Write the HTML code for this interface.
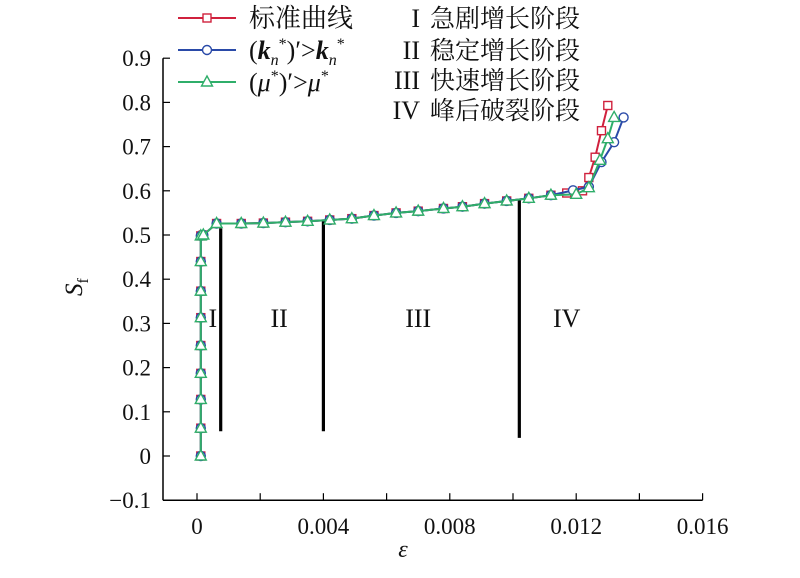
<!DOCTYPE html>
<html><head><meta charset="utf-8"><style>
body{margin:0;background:#fff;width:800px;height:573px;overflow:hidden}
svg,text{font-family:"Liberation Serif","Noto Serif CJK SC","DejaVu Serif",serif;fill:#111}
</style></head><body>
<svg id="chart" width="800" height="573" viewBox="0 0 800 573" font-family="'Liberation Serif','Noto Serif CJK SC','DejaVu Serif',serif" xmlns="http://www.w3.org/2000/svg"></svg>
<script>
const xTicks=[0,0.002,0.004,0.006,0.008,0.010,0.012,0.014,0.016];
const xTickLabels=["0","","0.004","","0.008","","0.012","","0.016"];
const yTicks=[-0.1,0,0.1,0.2,0.3,0.4,0.5,0.6,0.7,0.8,0.9];
const yTickLabels=["\u22120.1","0","0.1","0.2","0.3","0.4","0.5","0.6","0.7","0.8","0.9"];
const baseX=[0.00012,0.00012,0.00012,0.00012,0.00012,0.00012,0.00012,0.00012,0.00012,0.0002,0.00062,0.0014,0.0021,0.0028,0.0035,0.0042,0.0049,0.0056,0.0063,0.0070,0.0078,0.0084,0.0091,0.0098,0.0105,0.0112];
const baseY=[0,0.063,0.128,0.187,0.25,0.313,0.373,0.44,0.498,0.5,0.526,0.526,0.527,0.529,0.531,0.534,0.537,0.544,0.55,0.554,0.56,0.564,0.571,0.577,0.583,0.59];
const redX=[0.0117,0.0122,0.0124,0.0126,0.0128,0.0130];
const redY=[0.595,0.60,0.63,0.676,0.736,0.793];
const blueX=[0.0119,0.0124,0.0128,0.0132,0.0135];
const blueY=[0.601,0.609,0.665,0.71,0.766];
const greenX=[0.0120,0.0124,0.01275,0.0130,0.0132];
const greenY=[0.592,0.607,0.669,0.718,0.766];
const stageX=[0.00075,0.004,0.0102];
const stageTop=[0.515,0.531,0.578];
const stageBottom=[0.056,0.056,0.041];
const stageLabels=["I","II","III","IV"];
const stageLabelX=[0.0005,0.0026,0.007,0.0117];

const svg=document.getElementById('chart');
const NS="http://www.w3.org/2000/svg";
const FONT="'Liberation Serif','Noto Serif CJK SC','DejaVu Serif',serif";
const X0=197,XS=31.6/0.001,Y0=456,YS=442;
const sx=v=>X0+v*XS, sy=v=>Y0-v*YS;
function mk(tag,attrs,parent){const e=document.createElementNS(NS,tag);for(const k in attrs)e.setAttribute(k,attrs[k]);if(tag==='text')e.setAttribute('font-family',FONT);(parent||svg).appendChild(e);return e;}

const axes=mk('g',{});


const ya=mk('line',{x1:163,y1:sy(0.9),x2:163,y2:sy(-0.1),stroke:'#000','stroke-width':1.5},axes);


const xa=mk('line',{x1:163,y1:sy(-0.1),x2:sx(0.016),y2:sy(-0.1),stroke:'#000','stroke-width':1.5},axes);


yTicks.forEach((v,i)=>{
  mk('line',{x1:163,y1:sy(v),x2:170,y2:sy(v),stroke:'#000','stroke-width':1.2},axes);
  const t=mk('text',{x:151,y:sy(v)+8,'text-anchor':'end','font-size':23},axes);
  t.textContent=yTickLabels[i];
  
  
});
xTicks.forEach((v,i)=>{
  mk('line',{x1:sx(v),y1:sy(-0.1),x2:sx(v),y2:sy(-0.1)-7,stroke:'#000','stroke-width':1.2},axes);
  if(xTickLabels[i]){const t=mk('text',{x:sx(v),y:534,'text-anchor':'middle','font-size':23},axes);
  t.textContent=xTickLabels[i];
  
  }
});
const xt=mk('text',{x:403,y:557,'text-anchor':'middle','font-size':24,'font-style':'italic'});
xt.textContent='ε';


const yt=mk('text',{transform:'translate(82,296) rotate(-90)','font-size':25,'font-style':'italic'});
yt.innerHTML='S<tspan font-size="16" font-style="normal" dy="6">f</tspan>';



stageX.forEach((v,i)=>{
  const l=mk('line',{x1:sx(v),y1:sy(stageTop[i]),x2:sx(v),y2:sy(stageBottom[i]),stroke:'#000','stroke-width':3.2});
  
  
});
stageLabels.forEach((s,i)=>{
  const t=mk('text',{x:sx(stageLabelX[i]),y:327,'text-anchor':'middle','font-size':26});
  t.textContent=s;
  
  
});

function marker(g,type,x,y,c){
  if(type==='sq')return mk('rect',{x:x-4,y:y-4,width:8,height:8,fill:'#fff',stroke:c,'stroke-width':1.4},g);
  if(type==='ci')return mk('circle',{cx:x,cy:y,r:4.5,fill:'#fff',stroke:c,'stroke-width':1.4},g);
  return mk('polygon',{points:`${x},${y-6} ${x-5.5},${y+4} ${x+5.5},${y+4}`,fill:'#fff',stroke:c,'stroke-width':1.4},g);
}
function series(name,xs,ys,c,type){
  const g=mk('g',{});
  
  
  const pts=xs.map((v,i)=>sx(v)+','+sy(ys[i])).join(' ');
  mk('polyline',{points:pts,fill:'none',stroke:c,'stroke-width':2},g);
  xs.forEach((v,i)=>{const m=marker(g,type,sx(v),sy(ys[i]),c);
    
    });
}
series('standard-curve-series',baseX.concat(redX),baseY.concat(redY),'#d0213d','sq');
series('kn-series',baseX.concat(blueX),baseY.concat(blueY),'#2a4aa8','ci');
series('mu-series',baseX.concat(greenX),baseY.concat(greenY),'#2fae6a','tr');

const lg=mk('g',{});


const leg=[['standard','#d0213d','sq',18,'标准曲线'],['kn','#2a4aa8','ci',50,''],['mu','#2fae6a','tr',82,'']];
leg.forEach(r=>{
  const e=mk('g',{},lg);
  
  
  mk('line',{x1:178,y1:r[3],x2:236,y2:r[3],stroke:r[1],'stroke-width':2},e);
  marker(e,r[2],207,r[3],r[1]);
  const t=mk('text',{x:249,y:r[3]+9,'font-size':26},e);
  if(r[0]==='standard')t.textContent=r[4];
  else if(r[0]==='kn')t.innerHTML='(<tspan font-weight="bold" font-style="italic">k</tspan><tspan font-style="italic" font-size="16" dy="6">n</tspan><tspan font-size="16" dy="-16">*</tspan><tspan dy="10">)′&gt;</tspan><tspan font-weight="bold" font-style="italic">k</tspan><tspan font-style="italic" font-size="16" dy="6">n</tspan><tspan font-size="16" dy="-16">*</tspan>';
  else t.innerHTML='(<tspan font-style="italic">μ</tspan><tspan font-size="16" dy="-10">*</tspan><tspan dy="10">)′&gt;</tspan><tspan font-style="italic">μ</tspan><tspan font-size="16" dy="-10">*</tspan>';
  
  
});
const stg=[['I','急剧增长阶段',18],['II','稳定增长阶段',50],['III','快速增长阶段',80],['IV','峰后破裂阶段',110]];
stg.forEach(s=>{
  const t=mk('text',{x:420,y:s[2]+9,'font-size':26,'text-anchor':'end'},lg);
  t.textContent=s[0];
  
  
  const t2=mk('text',{x:430,y:s[2]+9,'font-size':25},lg);
  t2.textContent=s[1];
  
  
});
</script>
</body></html>
